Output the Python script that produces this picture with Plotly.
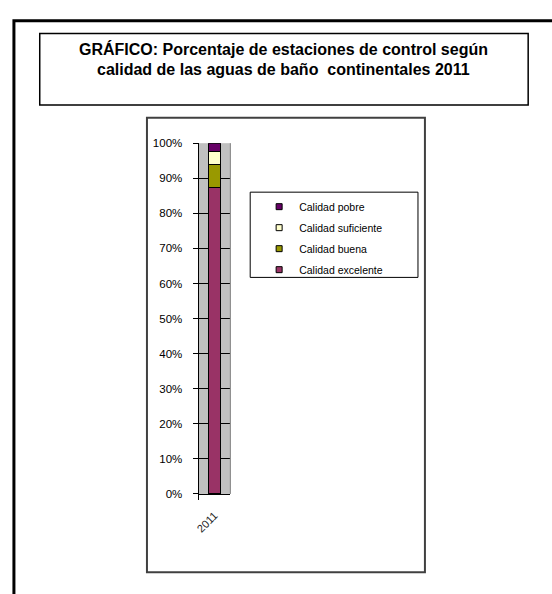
import plotly.graph_objects as go

W, H = 552, 594

years = ["2011"]
series_names = ["Calidad excelente", "Calidad buena", "Calidad suficiente", "Calidad pobre"]
excelente = [0.875]
buena = [0.065]
suficiente = [0.035]
pobre = [0.025]
series_values = [excelente, buena, suficiente, pobre]
series_colors = ["#993366", "#999900", "#FFFFCC", "#660066"]

ytick_vals = [0, 0.1, 0.2, 0.3, 0.4, 0.5, 0.6, 0.7, 0.8, 0.9, 1.0]
ytick_text = ["0%", "10%", "20%", "30%", "40%", "50%", "60%", "70%", "80%", "90%", "100%"]

title_lines = ["GRÁFICO: Porcentaje de estaciones de control según",
               "calidad de las aguas de baño  continentales 2011"]


def px(x):
    return x / W


def py(y):
    return 1 - y / H


fig = go.Figure()
for name, vals, col in zip(series_names, series_values, series_colors):
    fig.add_trace(go.Bar(
        x=years, y=vals, name=name, marker=dict(color=col, line=dict(color="black", width=1)),
        showlegend=False,
    ))
# legend entries (small squares), top to bottom: pobre ... excelente
for name, col in reversed(list(zip(series_names, series_colors))):
    fig.add_trace(go.Scatter(
        x=[None], y=[None], mode="markers", name=name, legendgroup=name,
        marker=dict(symbol="square", size=6, color=col, line=dict(color="black", width=1)),
        showlegend=True,
    ))

fig.update_layout(
    width=W, height=H,
    margin=dict(l=0, r=0, t=0, b=0),
    paper_bgcolor="white",
    plot_bgcolor="#C0C0C0",
    barmode="stack",
    bargap=0.6,
    font=dict(family="Liberation Sans, Arial", color="black"),
    xaxis=dict(
        domain=[px(196), px(228)],
        type="category",
        showline=True, linecolor="black", linewidth=1,
        ticks="outside", ticklen=5, tickcolor="black", tickson="boundaries",
        tickangle=-45, tickfont=dict(size=11, color="#222222"),
        ticklabelstandoff=10,
        showgrid=False, zeroline=False,
    ),
    yaxis=dict(
        domain=[py(498), py(140)],
        range=[0, 1],
        tickvals=ytick_vals, ticktext=ytick_text,
        showline=True, linecolor="black", linewidth=1,
        ticks="outside", ticklen=5, tickcolor="black",
        showgrid=True, gridcolor="black", gridwidth=1,
        zeroline=False,
        tickfont=dict(size=11.5, color="black"),
        ticklabelstandoff=8,
    ),
    legend=dict(
        x=px(257), y=py(190), xanchor="left", yanchor="top",
        bgcolor="rgba(0,0,0,0)", borderwidth=0,
        traceorder="grouped", tracegroupgap=2,
        font=dict(size=10.5, color="black"),
        itemwidth=30,
    ),
    shapes=[
        dict(type="rect", xref="paper", yref="paper", x0=px(10), x1=px(570), y0=py(15), y1=py(620),
             line=dict(color="black", width=3), fillcolor="rgba(0,0,0,0)", layer="above"),
        dict(type="rect", xref="paper", yref="paper", x0=px(36), x1=px(528), y0=py(28), y1=py(101),
             line=dict(color="black", width=1.5), fillcolor="rgba(0,0,0,0)"),
        dict(type="rect", xref="paper", yref="paper", x0=px(144), x1=px(424), y0=py(114), y1=py(578),
             line=dict(color="#404040", width=2), fillcolor="rgba(0,0,0,0)"),
        dict(type="line", xref="paper", yref="paper", x0=px(228), x1=px(228), y0=py(140), y1=py(498),
             line=dict(color="#808080", width=1)),
        dict(type="rect", xref="paper", yref="paper", x0=px(248), x1=px(417), y0=py(190), y1=py(277),
             line=dict(color="black", width=1), fillcolor="white", layer="below"),
    ],
    annotations=[
        dict(text="<b>%s</b>" % title_lines[0], x=px(281.5), y=py(43.5), xref="paper", yref="paper",
             xanchor="center", yanchor="middle", showarrow=False, font=dict(size=16, color="black")),
        dict(text="<b>%s</b>" % title_lines[1], x=px(281.5), y=py(64.5), xref="paper", yref="paper",
             xanchor="center", yanchor="middle", showarrow=False, font=dict(size=16, color="black")),
    ],
)

fig.write_html(
    "out.html",
    config={"displayModeBar": False},
    post_script="document.body.style.margin='0';document.body.style.overflow='hidden';",
)
